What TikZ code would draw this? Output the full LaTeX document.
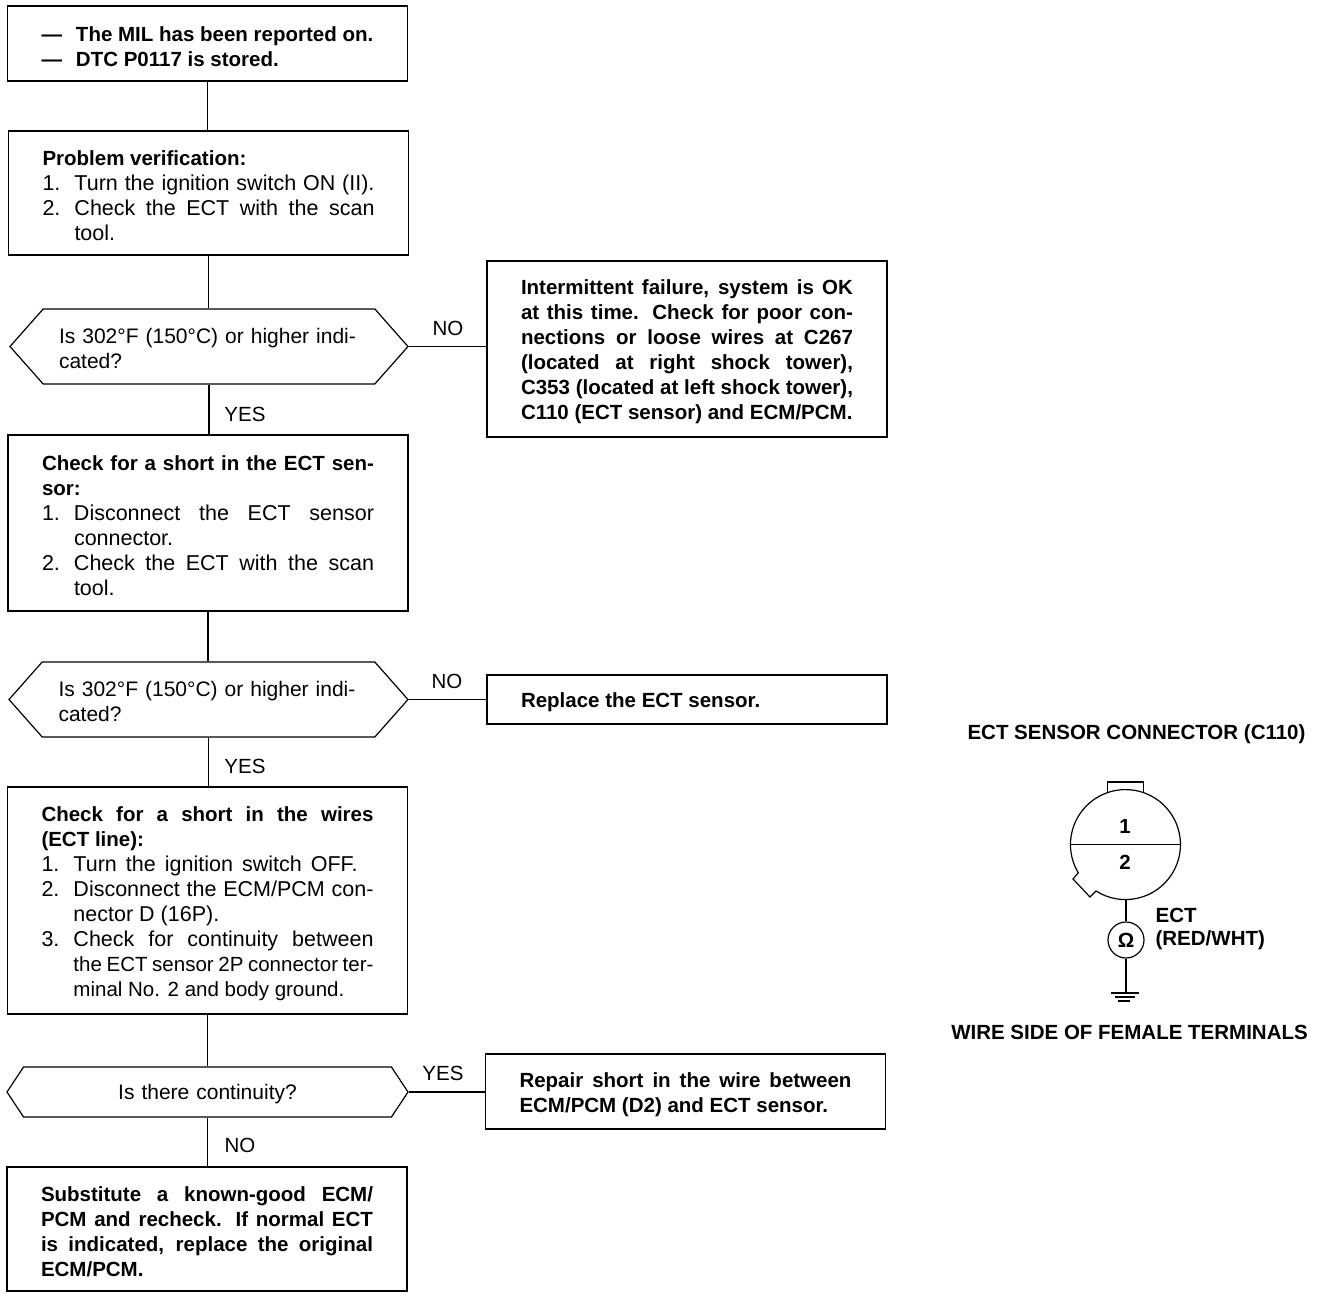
\documentclass[tikz,border=0pt]{standalone}
\usepackage{fontspec}
\setmainfont{Liberation Sans}
\usetikzlibrary{shapes.symbols}
\newcommand{\nr}[1]{\makebox[32pt][l]{#1}}
\newcommand{\hang}{\hspace*{32pt}}
\newcommand{\head}[1]{{\fontsize{20.5}{25}\selectfont\bfseries #1}}
\begin{document}
\begin{tikzpicture}[
        x=1pt, y=-1pt,
        font=\fontsize{20.5}{25}\selectfont,
        line width=1.2pt,
        block/.style={draw, inner xsep=34pt, inner ysep=0pt, text width=332pt, align=justify,
            font=\fontsize{21.5}{25}\selectfont, execute at begin node={\rule{0pt}{21pt}}},
        heavy/.style={block, font=\fontsize{20.5}{25}\selectfont\bfseries},
        query/.style={draw, signal, signal to=west and east, signal pointer angle=97,
            inner xsep=0pt, inner ysep=0pt, text width=300pt, align=left,
            font=\fontsize{21}{25}\selectfont, execute at begin node={\rule{0pt}{20pt}}},
        answer/.style={inner sep=0pt},
        caption/.style={inner sep=0pt, font=\fontsize{20.5}{25}\selectfont\bfseries}
    ]
    \useasboundingbox (0,0) rectangle (1328,1298);

    % Kaesten links
    \node (start) [heavy, minimum height=75pt] at (207.5,43.5)
        {---\hspace{14pt}The MIL has been reported on.\\
         ---\hspace{14pt}DTC P0117 is stored.};
    \node (verify) [block, minimum height=124pt] at (208.5,193)
        {\head{Problem verification:}\\
         \nr{1.}Turn the ignition switch ON (II).\linebreak
         \nr{2.}Check the ECT with the scan\linebreak
         \hang tool.};
    \node (query1) [query, minimum height=75pt, minimum width=398pt] at (209,346.5)
        {Is 302°F (150°C) or higher indi-\\cated?};
    \node (sensor) [block, minimum height=176pt] at (208,523)
        {\head{Check for a short in the ECT sen-}\linebreak
         \head{sor:}\\
         \nr{1.}Disconnect the ECT sensor\linebreak
         \hang connector.\\
         \nr{2.}Check the ECT with the scan\linebreak
         \hang tool.};
    \node (query2) [query, minimum height=75pt, minimum width=399pt] at (208.5,699.5)
        {Is 302°F (150°C) or higher indi-\\cated?};
    \node (wires) [block, minimum height=227pt] at (207.5,900.5)
        {\head{Check for a short in the wires}\linebreak
         \head{(ECT line):}\\
         \nr{1.}\makebox[284pt][s]{Turn the ignition switch OFF.}\\
         \nr{2.}Disconnect the ECM/PCM con-\linebreak
         \hang nector D (16P).\\
         \nr{3.}Check for continuity between\linebreak
         \hang {\fontsize{20.5}{25}\selectfont the ECT sensor 2P connector ter-}\linebreak
         \hang {\fontsize{20.5}{25}\selectfont minal No. 2 and body ground.}};
    \node (query3) [query, minimum height=50pt, minimum width=401pt, signal pointer angle=113, align=center] at (207.5,1092)
        {Is there continuity?};
    \node (ecm) [heavy, minimum height=124pt] at (207,1229)
        {Substitute a known-good ECM/\linebreak
         PCM and recheck. If normal ECT\linebreak
         is indicated, replace the original\linebreak
         ECM/PCM.};

    % Kaesten rechts
    \node (intermittent) [heavy, minimum height=176pt] at (687,349)
        {Intermittent failure, system is OK\linebreak
         at this time. Check for poor con-\linebreak
         nections or loose wires at C267\linebreak
         (located at right shock tower),\linebreak
         C353 (located at left shock tower),\linebreak
         C110 (ECT sensor) and ECM/PCM.};
    \node (replace) [heavy, minimum height=49pt] at (687,699.5)
        {Replace the ECT sensor.};
    \node (repair) [heavy, minimum height=75pt] at (685.5,1091.5)
        {Repair short in the wire between\linebreak
         ECM/PCM (D2) and ECT sensor.};

    % Leiter
    \draw   (start.south) -- (start.south |- verify.north)
            (verify.south) -- (verify.south |- query1.north)
            (query1.south) -- (query1.south |- sensor.north)
            (sensor.south) -- (sensor.south |- query2.north)
            (query2.south) -- (query2.south |- wires.north)
            (wires.south) -- (wires.south |- query3.north)
            (query3.south) -- (query3.south |- ecm.north);
    \draw   (query1.east) -- (query1.east -| intermittent.west)
            (query2.east) -- (query2.east -| replace.west)
            (query3.east) -- (query3.east -| repair.west);

    % Beschriftung
    \node (no1) [answer] at (448,328) {NO};
    \node (yes1) [answer] at (245,414) {YES};
    \node (no2) [answer] at (447,681) {NO};
    \node (yes2) [answer] at (245,766) {YES};
    \node (yes3) [answer] at (443,1073) {YES};
    \node (no3) [answer] at (240,1145) {NO};

    % Stecker
    \node (title) [caption] at (1136.5,734) {ECT SENSOR CONNECTOR (C110)};
    \node (side) [caption] at (1129.5,1032) {WIRE SIDE OF FEMALE TERMINALS};
    \draw   (1107.5,792) -- (1107.5,782) -- (1143.5,782) -- (1143.5,792);
    \draw   (1078,873) -- (1073,879) -- (1090,897) -- (1096,891)
            arc [start angle=122.4, end angle=-211, radius=55] -- cycle;
    \coordinate (pin) at (1126,899.5);
    \draw   (1070.5,844.5) -- (1180.5,844.5);
    \node (pin1) [caption] at (1125,826) {1};
    \node (pin2) [caption] at (1125,862) {2};
    \node (ohm) [draw, circle, minimum size=36pt, inner sep=0pt, caption] at (1126,940) {Ω};
    \coordinate (gnd) at (1126,993);
    \draw   (pin) -- (ohm.north)
            (ohm.south) -- (gnd);
    \draw   (1111,993) -- (1139,993)
            (1115,997) -- (1135,997)
            (1118,1001) -- (1130,1001);
    \node (wire) [caption, anchor=west] at (1155,915) {ECT};
    \node (colour) [caption, anchor=west] at (1155,940) {(RED/WHT)};
\end{tikzpicture}
\end{document}
